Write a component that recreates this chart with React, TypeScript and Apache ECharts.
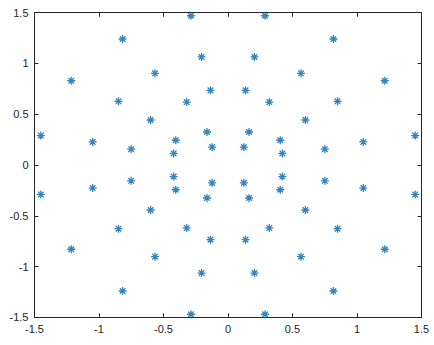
import React, { useEffect, useRef } from "react";
import * as echarts from "echarts";

const xValues: number[] = [
  -0.287, 0.287, -0.817, 0.817, -0.205, 0.205, -0.566, 0.566,
  -1.215, 1.215, -0.136, 0.136, -0.849, 0.849, -0.32, 0.32,
  -0.6, 0.6, -0.163, 0.163, -1.451, 1.451, -0.405, 0.405,
  -1.049, 1.049, -0.123, 0.123, -0.751, 0.751, -0.421, 0.421,
  -0.287, 0.287, -0.817, 0.817, -0.205, 0.205, -0.566, 0.566,
  -1.215, 1.215, -0.136, 0.136, -0.849, 0.849, -0.32, 0.32,
  -0.6, 0.6, -0.163, 0.163, -1.451, 1.451, -0.405, 0.405,
  -1.049, 1.049, -0.123, 0.123, -0.751, 0.751, -0.421, 0.421,
];
const yValues: number[] = [
  1.47, 1.47, 1.241, 1.241, 1.064, 1.064, 0.903, 0.903,
  0.83, 0.83, 0.735, 0.735, 0.627, 0.627, 0.62, 0.62,
  0.443, 0.443, 0.325, 0.325, 0.29, 0.29, 0.244, 0.244,
  0.227, 0.227, 0.176, 0.176, 0.156, 0.156, 0.114, 0.114,
  -1.47, -1.47, -1.241, -1.241, -1.064, -1.064, -0.903, -0.903,
  -0.83, -0.83, -0.735, -0.735, -0.627, -0.627, -0.62, -0.62,
  -0.443, -0.443, -0.325, -0.325, -0.29, -0.29, -0.244, -0.244,
  -0.227, -0.227, -0.176, -0.176, -0.156, -0.156, -0.114, -0.114,
];
const tickLabels: string[] = ["-1.5", "-1", "-0.5", "0", "0.5", "1", "1.5"];

const AXIS_COLOR = "#262626";
const STAR =
  "path://M5 0L5 10M0 5L10 5M1.5 1.5L8.5 8.5M1.5 8.5L8.5 1.5";

export default function App() {
  const ref = useRef<HTMLDivElement>(null);
  useEffect(() => {
    if (!ref.current) return;
    const chart = echarts.init(ref.current, undefined, { renderer: "svg" });
    const fmt = (v: number) => {
      const idx = Math.round((v + 1.5) / 0.5);
      return tickLabels[idx] ?? String(v);
    };
    const baseAxis = {
      min: -1.5,
      max: 1.5,
      interval: 0.5,
      splitLine: { show: false },
      axisLine: { show: true, onZero: false, lineStyle: { color: AXIS_COLOR, width: 1 } },
      axisTick: { show: true, inside: true, length: 4, lineStyle: { color: AXIS_COLOR } },
    };
    const label = {
      color: AXIS_COLOR,
      fontSize: 11,
      fontFamily: "Liberation Sans, Arial, sans-serif",
      formatter: fmt,
    };
    chart.setOption({
      animation: false,
      backgroundColor: "#ffffff",
      grid: { left: 34.5, right: 12.5, top: 12.7, bottom: 27.7 },
      xAxis: [
        { ...baseAxis, type: "value", position: "bottom", axisLabel: { ...label, margin: 6 } },
        { ...baseAxis, type: "value", position: "top", axisLabel: { show: false } },
      ],
      yAxis: [
        { ...baseAxis, type: "value", position: "left", axisLabel: { ...label, margin: 6 } },
        { ...baseAxis, type: "value", position: "right", axisLabel: { show: false } },
      ],
      series: [
        {
          type: "scatter",
          xAxisIndex: 0,
          yAxisIndex: 0,
          symbol: STAR,
          symbolSize: 8,
          itemStyle: { color: "#0072BD", borderColor: "#0067AA", borderWidth: 1.3 },
          data: xValues.map((x, i) => [x, yValues[i]]),
        },
      ],
    });
    return () => chart.dispose();
  }, []);
  return <div ref={ref} style={{ width: 434, height: 345, position: "absolute", left: 0, top: 0 }} />;
}
